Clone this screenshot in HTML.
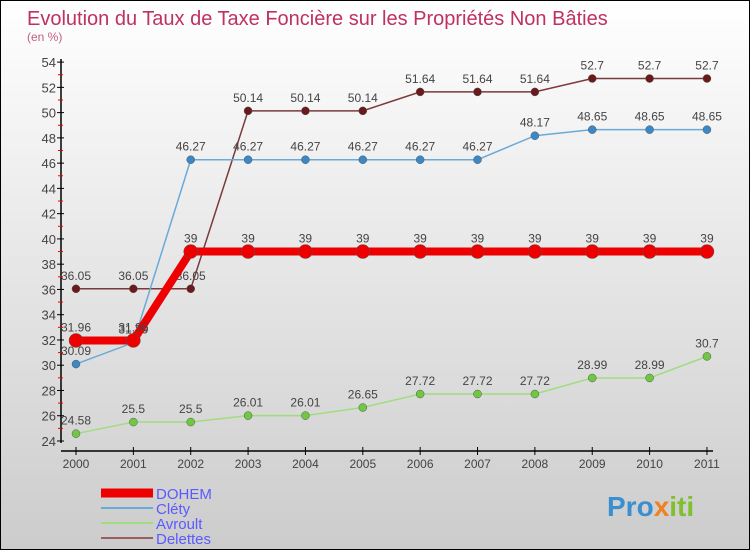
<!DOCTYPE html>
<html><head><meta charset="utf-8"><style>
body{margin:0}
#wrap{width:748px;height:548px;border:1px solid #000;background:linear-gradient(#fff,#ccc);position:relative;font-family:"Liberation Sans",sans-serif}
svg text{font-family:"Liberation Sans",sans-serif}
</style></head><body>
<div id="wrap">
<svg id="c" width="748" height="548">
<text x="26" y="24" font-size="20" fill="#c03060">Evolution du Taux de Taxe Foncière sur les Propriétés Non Bâties</text>
<text x="26" y="40" font-size="12" fill="#c06080">(en %)</text>
<text x="606" y="515" font-size="28" font-weight="bold" fill="#3a8fd0">Pro<tspan fill="#f08020">x</tspan><tspan fill="#80c030">iti</tspan></text>
</svg></div>
<script>
const years=["2000","2001","2002","2003","2004","2005","2006","2007","2008","2009","2010","2011"];
const yTicks=[24,26,28,30,32,34,36,38,40,42,44,46,48,50,52,54];
const dohem=[31.96,31.96,39,39,39,39,39,39,39,39,39,39];
const clety=[30.09,31.79,46.27,46.27,46.27,46.27,46.27,46.27,48.17,48.65,48.65,48.65];
const avroult=[24.58,25.5,25.5,26.01,26.01,26.65,27.72,27.72,27.72,28.99,28.99,30.7];
const delettes=[36.05,36.05,36.05,50.14,50.14,50.14,51.64,51.64,51.64,52.7,52.7,52.7];
const seriesNames=["DOHEM","Cléty","Avroult","Delettes"];
const ns="http://www.w3.org/2000/svg",svg=document.getElementById("c");
const X=i=>75+i*57.36, Y=v=>440-(v-24)*12.63;
function mk(t,a){const e=document.createElementNS(ns,t);for(const k in a)e.setAttribute(k,a[k]);svg.appendChild(e);return e;}
let e;
e=mk("line",{x1:60,y1:58,x2:60,y2:442,stroke:"#000","stroke-width":1.5});


e=mk("line",{x1:60,y1:450,x2:712,y2:450,stroke:"#000","stroke-width":1.5});


yTicks.forEach((v,i)=>{const y=Y(v);
 e=mk("line",{x1:56,y1:y,x2:63,y2:y,stroke:"#000"});
 
 
 if(i<yTicks.length-1){e=mk("line",{x1:57,y1:Y(v+1),x2:62,y2:Y(v+1),stroke:"#e00"});
 
 }
 e=mk("text",{x:55,y:y+5,"text-anchor":"end","font-size":13,fill:"#444"});e.textContent=v;
 
 
});
years.forEach((yr,i)=>{const x=X(i);
 e=mk("line",{x1:x,y1:446,x2:x,y2:454,stroke:"#000"});
 
 
 e=mk("text",{x:x,y:467,"text-anchor":"middle","font-size":12,fill:"#444"});e.textContent=yr;
 
 
});
function series(data,color,dot,w,r,name){
 const pts=data.map((v,i)=>X(i)+","+Y(v)).join(" ");
 e=mk("polyline",{points:pts,fill:"none",stroke:color,"stroke-width":w});
 
 
 data.forEach((v,i)=>{
  e=mk("circle",{cx:X(i),cy:Y(v),r:r,fill:dot,stroke:"#555","stroke-width":0.5});
  
  
  e=mk("text",{x:X(i),y:Y(v)-9,"text-anchor":"middle","font-size":12,fill:"#444"});e.textContent=v;
  
  
 });
}
series(delettes,"#7a3a3a","#6a1a1a",1.5,4,"delettes");
series(clety,"#6aaad8","#3a88c8",1.5,4,"clety");
series(avroult,"#a0dd80","#70c840",1.5,4,"avroult");
series(dohem,"#e00","#e00",8,7,"dohem");
const lc=["#e00","#6aaad8","#a0dd80","#9a6060"],lw=[9,2,2,2];
seriesNames.forEach((n,i)=>{const y=492+i*15;
 e=mk("line",{x1:100,y1:y,x2:152,y2:y,stroke:lc[i],"stroke-width":lw[i]});
 
 
 e=mk("text",{x:155,y:y+6,"font-size":15,fill:"#5a5aff"});e.textContent=n;
 
 
});
</script>
</body></html>
